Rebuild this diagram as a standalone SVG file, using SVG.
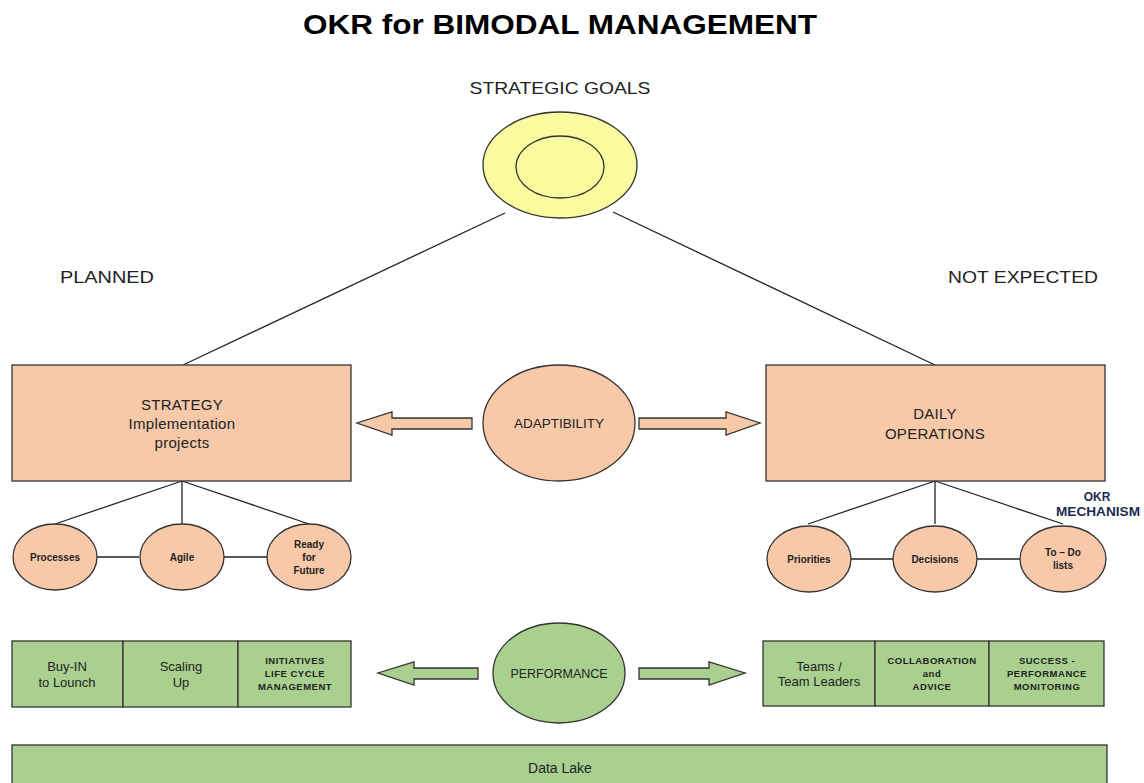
<svg xmlns="http://www.w3.org/2000/svg" width="1144" height="783" viewBox="0 0 1144 783">
<style>
text{font-family:"Liberation Sans",Arial,sans-serif;fill:#222;text-anchor:middle}
.peach{fill:#F7C9A9;stroke:#333;stroke-width:1.3}
.green{fill:#A9D08E;stroke:#333;stroke-width:1.3}
.ln{stroke:#222;stroke-width:1.3;fill:none}
.lbl{font-size:17px}
.big{font-size:15px;letter-spacing:0.3px}
.sm{font-size:10px;font-weight:bold}
.xs{font-size:9.5px;font-weight:bold;letter-spacing:0.5px}
.mid{font-size:13.5px}
</style>
<rect width="1144" height="783" fill="#fff"/>
<text x="560" y="34" style="font-size:27px;font-weight:bold;fill:#000" textLength="514" lengthAdjust="spacingAndGlyphs">OKR for BIMODAL MANAGEMENT</text>
<text x="560" y="94" class="lbl" textLength="181" lengthAdjust="spacingAndGlyphs">STRATEGIC GOALS</text>
<text x="107" y="283" class="lbl" textLength="94" lengthAdjust="spacingAndGlyphs">PLANNED</text>
<text x="1023" y="283" class="lbl" textLength="150" lengthAdjust="spacingAndGlyphs">NOT EXPECTED</text>
<g id="connectors">
<line class="ln" x1="505" y1="213" x2="183" y2="365"/>
<line class="ln" x1="613" y1="212" x2="935" y2="365"/>
<line class="ln" x1="182" y1="481" x2="55" y2="524"/>
<line class="ln" x1="182" y1="481" x2="182" y2="524"/>
<line class="ln" x1="182" y1="481" x2="309" y2="524"/>
<line class="ln" x1="97" y1="557" x2="139" y2="557"/>
<line class="ln" x1="224" y1="557" x2="267" y2="557"/>
<line class="ln" x1="935" y1="481" x2="808" y2="524"/>
<line class="ln" x1="935" y1="481" x2="935" y2="524"/>
<line class="ln" x1="935" y1="481" x2="1063" y2="524"/>
<line class="ln" x1="851" y1="559" x2="893" y2="559"/>
<line class="ln" x1="977" y1="559" x2="1020" y2="559"/>
<polygon class="peach" points="472,418 392,418 392,412 357,423 392,435 392,429 472,429"/>
<polygon class="peach" points="639,418 726,418 726,412 760,423 726,435 726,429 639,429"/>
<polygon class="green" points="478,668 414,668 414,662 378,673 414,685 414,679 478,679"/>
<polygon class="green" points="639,668 709,668 709,662 745,673 709,685 709,679 639,679"/>
</g>
<g id="goals">
<ellipse cx="560" cy="165" rx="77" ry="53" fill="#FAFA9E" stroke="#333" stroke-width="1.3"/>
<ellipse cx="560" cy="167" rx="44" ry="31" fill="#FAFA9E" stroke="#333" stroke-width="1.3"/>
</g>
<g id="strategy">
<rect class="peach" x="12" y="365" width="339" height="116"/>
<text x="182" y="410" class="big">STRATEGY</text>
<text x="182" y="429" class="big">Implementation</text>
<text x="182" y="448" class="big">projects</text>
</g>
<g id="daily">
<rect class="peach" x="766" y="365" width="339" height="116"/>
<text x="935" y="419" class="big">DAILY</text>
<text x="935" y="439" class="big">OPERATIONS</text>
</g>
<g id="adaptability">
<ellipse class="peach" cx="559" cy="423" rx="76" ry="58"/>
<text x="559" y="428" class="mid">ADAPTIBILITY</text>
</g>
<g id="processes"><ellipse class="peach" cx="55" cy="557" rx="42" ry="33"/><text x="55" y="561" class="sm">Processes</text></g>
<g id="agile"><ellipse class="peach" cx="182" cy="557" rx="42" ry="33"/><text x="182" y="561" class="sm">Agile</text></g>
<g id="ready"><ellipse class="peach" cx="309" cy="557" rx="42" ry="33"/>
<text x="309" y="548" class="sm">Ready</text><text x="309" y="561" class="sm">for</text><text x="309" y="574" class="sm">Future</text></g>
<g id="priorities"><ellipse class="peach" cx="809" cy="559" rx="42" ry="33"/><text x="809" y="563" class="sm">Priorities</text></g>
<g id="decisions"><ellipse class="peach" cx="935" cy="559" rx="42" ry="33"/><text x="935" y="563" class="sm">Decisions</text></g>
<g id="todo"><ellipse class="peach" cx="1063" cy="559" rx="43" ry="33"/>
<text x="1063" y="556" class="sm">To – Do</text><text x="1063" y="569" class="sm">lists</text></g>
<g id="okr-mechanism">
<text x="1097" y="501" style="font-size:12px;font-weight:bold;fill:#1F2A50">OKR</text>
<text x="1098" y="516" style="font-size:12px;font-weight:bold;fill:#1F2A50" textLength="84" lengthAdjust="spacingAndGlyphs">MECHANISM</text>
</g>
<g id="performance">
<ellipse class="green" cx="559" cy="673" rx="66" ry="50"/>
<text x="559" y="678" class="mid" style="font-size:12.5px">PERFORMANCE</text>
</g>
<g id="left-green">
<rect class="green" x="12" y="641" width="111" height="66"/>
<rect class="green" x="123" y="641" width="115" height="66"/>
<rect class="green" x="238" y="641" width="113" height="66"/>
<text x="67" y="671" style="font-size:13px">Buy-IN</text>
<text x="67" y="687" style="font-size:13px">to Lounch</text>
<text x="181" y="671" style="font-size:13px">Scaling</text>
<text x="181" y="687" style="font-size:13px">Up</text>
<text x="295" y="664" class="xs">INITIATIVES</text>
<text x="295" y="677" class="xs">LIFE CYCLE</text>
<text x="295" y="690" class="xs">MANAGEMENT</text>
</g>
<g id="right-green">
<rect class="green" x="763" y="641" width="112" height="65"/>
<rect class="green" x="875" y="641" width="114" height="65"/>
<rect class="green" x="989" y="641" width="115" height="65"/>
<text x="819" y="671" style="font-size:13px">Teams /</text>
<text x="819" y="686" style="font-size:13px">Team Leaders</text>
<text x="932" y="664" class="xs">COLLABORATION</text>
<text x="932" y="677" class="xs">and</text>
<text x="932" y="690" class="xs">ADVICE</text>
<text x="1047" y="664" class="xs">SUCCESS -</text>
<text x="1047" y="677" class="xs">PERFORMANCE</text>
<text x="1047" y="690" class="xs">MONITORING</text>
</g>
<g id="data-lake">
<rect class="green" x="12" y="745" width="1095" height="50"/>
<text x="560" y="773" style="font-size:14px">Data Lake</text>
</g>
</svg>
